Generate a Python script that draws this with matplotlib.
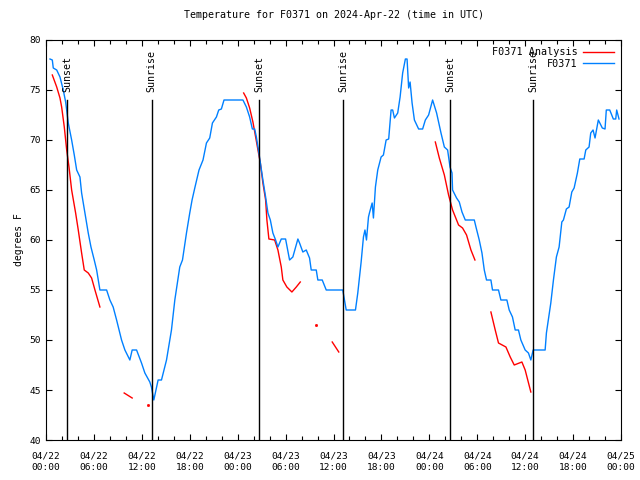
import numpy as np
import pandas as pd
import matplotlib
matplotlib.use('Agg')
import matplotlib.pyplot as plt
import matplotlib.dates as mdates

# hours since 2024-04-22 00:00 UTC
obs_hours = [0.5, 0.79, 0.91, 1.34, 1.75, 2.16, 2.46, 2.79, 3.21, 3.54, 3.84, 4.25, 4.46, 4.88,
             5.29, 5.63, 6.04, 6.34, 6.75, 7.59, 8.0, 8.41, 8.84, 9.46, 9.88, 10.5, 10.79, 11.34,
             11.96, 12.38, 13.0, 13.2, 13.5, 14.04, 14.46, 15.09, 15.71, 16.13, 16.75, 17.09,
             17.59, 18.0, 18.29, 18.63, 19.16, 19.66, 20.09, 20.5, 20.84, 21.34, 21.63, 21.96,
             22.29, 24.66, 25.09, 25.5, 25.84, 26.13, 26.34, 26.66, 27.16, 27.5, 27.79, 28.09,
             28.41, 28.75, 29.04, 29.46, 30.0, 30.5, 30.91, 31.54, 31.75, 32.16, 32.59, 33.0,
             33.21, 33.84, 34.04, 34.59, 35.09, 37.16, 37.59, 38.75, 39.04, 39.46, 39.75, 39.94,
             40.13, 40.38, 40.5, 40.84, 41.0, 41.25, 41.54, 41.96, 42.25, 42.59, 42.91, 43.21,
             43.41, 43.63, 44.04, 44.34, 44.66, 45.0, 45.21, 45.41, 45.59, 45.84, 46.13, 46.66,
             47.16, 47.5, 47.91, 48.41, 48.91, 49.46, 49.88, 50.29, 50.59, 50.84, 50.91, 51.41,
             51.75, 52.09, 52.5, 53.63, 53.84, 54.25, 54.59, 54.88, 55.16, 55.71, 55.91, 56.66,
             56.96, 57.71, 58.0, 58.41, 58.75, 59.16, 59.46, 60.0, 60.41, 60.71, 61.0, 62.5,
             62.66, 63.21, 63.54, 63.91, 64.25, 64.59, 64.79, 65.16, 65.5, 65.84, 66.13, 66.54,
             66.84, 67.38, 67.59, 68.0, 68.21, 68.5, 68.75, 69.16, 69.66, 70.0, 70.16, 70.59,
             71.04, 71.34, 71.46, 71.75]
obs_temps = [78.1, 78, 77.2, 77, 76.3, 75, 73.8, 71.7, 70, 68.5, 67, 66.3, 64.7, 62.7,
             60.7, 59.3, 58, 57, 55, 55, 54, 53.3, 52, 50, 49, 48, 49, 49,
             47.7, 46.7, 45.8, 45.3, 44, 46, 46, 48, 51, 54, 57.3, 58,
             60.7, 62.7, 64, 65.2, 67, 68, 69.7, 70.2, 71.7, 72.3, 73, 73.1,
             74, 74, 73.3, 72.3, 71.1, 71.1, 70.3, 68.7, 66, 64.3, 62.7, 62,
             60.7, 60, 59.3, 60.1, 60.1, 58, 58.3, 60.1, 59.7, 58.8, 59, 58.2,
             57, 57, 56, 56, 55, 55, 53, 53, 54.7, 57.8, 60.3, 61,
             60, 62.3, 62.7, 63.7, 62.2, 65.3, 67, 68.3, 68.5, 70, 70.1, 73,
             73, 72.2, 72.7, 74.3, 76.7, 78.1, 78.1, 75.2, 75.8, 73.7, 72, 71.1,
             71.1, 72, 72.5, 74, 72.7, 70.7, 69.3, 69, 67.3, 66.7, 65, 64.2,
             63.8, 62.8, 62, 62, 61.3, 60, 58.7, 57, 56, 56, 55, 55,
             54, 54, 53, 52.3, 51, 51, 50, 49, 48.7, 48, 49, 49,
             50.7, 53.7, 56, 58.3, 59.3, 61.8, 62, 63.1, 63.3, 64.8, 65.2, 66.7,
             68.1, 68.1, 69, 69.3, 70.7, 71, 70.2, 72, 71.2, 71.1, 73, 73,
             72.1, 72.1, 73, 72.1]

# analysis series, NaN marks a gap
ana_hours = [0.79, 1.34, 1.75, 1.96, 2.29, 2.59, 2.88, 3.21, 3.71, 4.04, 4.46, 4.79, 5.29, 5.71,
             6.13, 6.75, np.nan,
             9.79, 10.79, np.nan,
             24.75, 25.09, 25.5, 25.91, 26.25, 26.54, 26.84, 27.16, 27.5, 27.66, 27.91, 28.63,
             29.04, 29.46, 29.66, 30.16, 30.79, 31.34, 31.84, np.nan,
             35.84, 36.66, np.nan,
             48.75, 49.25, 49.88, 50.41, 50.91, 51.66, 52.16, 52.66, 53.21, 53.71, np.nan,
             55.71, 56.25, 56.66, 57.59, 58.13, 58.63, 59.59, 60.0, 60.71]
ana_temps = [76.5, 75.3, 74.2, 73.3, 71.3, 69, 67.3, 65, 62.7, 61, 58.7, 57, 56.7, 56.2,
             55, 53.3, np.nan,
             44.7, 44.2, np.nan,
             74.7, 74.2, 73.2, 71.8, 70.3, 69, 67.7, 65.7, 64, 62, 60.1, 60,
             59, 57.3, 56, 55.3, 54.8, 55.3, 55.8, np.nan,
             49.8, 48.8, np.nan,
             69.8, 68.2, 66.5, 64.5, 63, 61.5, 61.2, 60.5, 59, 58, np.nan,
             52.8, 51, 49.7, 49.3, 48.3, 47.5, 47.8, 47, 44.8]
ana_dot_hours = [12.79, 33.84]
ana_dot_temps = [43.5, 51.5]

sun_hours = [2.66, 13.25, 26.66, 37.25, 50.63, 61.0]
sun_labels = ['Sunset', 'Sunrise', 'Sunset', 'Sunrise', 'Sunset', 'Sunrise']

t0 = pd.Timestamp('2024-04-22 00:00')
def to_time(h):
    return t0 + pd.to_timedelta(np.array(h, dtype=float), unit='h')

plt.rcParams['font.family'] = 'DejaVu Sans Mono'
plt.rcParams['font.size'] = 7

fig = plt.figure(figsize=(6.4, 4.8), dpi=100)
ax = fig.add_axes([46/640, 40/480, 575/640, 400/480])

ax.plot(to_time(ana_hours), ana_temps, color='#ff0000', linewidth=1, label='F0371 Analysis')
ax.plot(to_time(ana_dot_hours), ana_dot_temps, color='#ff0000', linestyle='none',
        marker='s', markersize=1)
ax.plot(to_time(obs_hours), obs_temps, color='#0080ff', linewidth=1, label='F0371')

for h, lab in zip(sun_hours, sun_labels):
    t = to_time([h])[0]
    ax.plot([t, t], [40, 74], color='black', linewidth=1)
    ax.text(t, 74.8, lab, rotation=90, ha='center', va='bottom', fontsize=7.2)

ax.set_xlim(t0, t0 + pd.Timedelta(hours=72))
ax.set_ylim(40, 80)
ax.set_yticks(np.arange(40, 81, 5))
ax.xaxis.set_major_locator(mdates.HourLocator(byhour=[0, 6, 12, 18]))
ax.xaxis.set_minor_locator(mdates.HourLocator(interval=2))
ax.xaxis.set_major_formatter(mdates.DateFormatter('%m/%d\n%H:%M'))
ax.tick_params(which='both', direction='in', top=True, right=True, labelsize=6.8)
ax.tick_params(which='major', length=4, width=0.8)
ax.tick_params(which='minor', length=3, width=0.8)
ax.tick_params(axis='x', pad=8)
for lab in ax.get_xticklabels():
    lab.set_linespacing(1.45)

ax.set_ylabel('degrees F', fontsize=7)
ax.set_title('Temperature for F0371 on 2024-Apr-22 (time in UTC)', fontsize=7.2, pad=16)
ax.legend(loc='upper right', frameon=False, markerfirst=False, fontsize=7.3,
          handlelength=3.0, handletextpad=0.6, borderaxespad=0.3, labelspacing=0.15)

fig.savefig('out.png', dpi=100)
